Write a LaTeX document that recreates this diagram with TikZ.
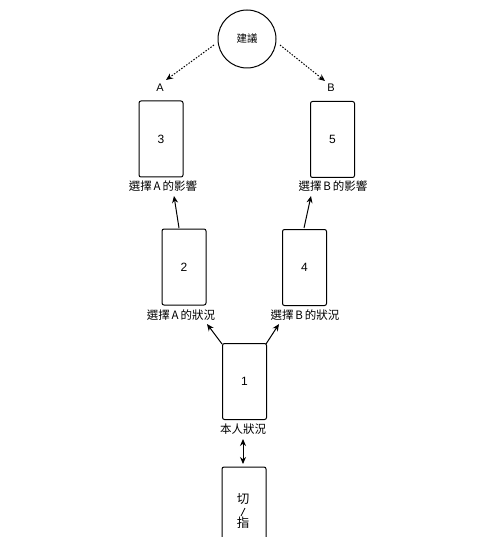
\documentclass[tikz,border=0pt]{standalone}
\usepackage{fontspec}
\setmainfont{Liberation Sans}
\newfontfamily\cjk{Noto Sans CJK TC}
\usetikzlibrary{arrows.meta}
\begin{document}
\begin{tikzpicture}[x=1pt,y=-1pt,
  card/.style={draw=black, rounded corners=2pt, minimum width=44pt, minimum height=76pt, line width=1pt, font=\fontsize{12}{14}\selectfont},
  captext/.style={font=\cjk\fontsize{11.5}{13}\selectfont, inner sep=1pt},
  arr/.style={-{Stealth[length=7pt,width=6pt]}, line width=1pt, black},
  dotarr/.style={-{Stealth[length=7pt,width=6pt]}, line width=1pt, black, dash pattern=on 1.5pt off 1.5pt}]
\useasboundingbox (0,0) rectangle (500,537);
\clip (0,0) rectangle (500,537);
\fill[white] (0,0) rectangle (500,537);
% advice circle
\node[draw=black, circle, line width=1pt, minimum size=58pt, inner sep=0pt, font=\cjk\fontsize{10.5}{12}\selectfont] (adv) at (247,39) {建議};
\node[font=\fontsize{11}{13}\selectfont, inner sep=1pt] (la) at (160,88) {A};
\node[font=\fontsize{11}{13}\selectfont, inner sep=1pt] (lb) at (331,88) {B};
% cards
\node[card] (b3) at (161,139) {3};
\node[card] (b5) at (332.5,139.5) {5};
\node[card] (b2) at (184,267) {2};
\node[card] (b4) at (304.5,267.5) {4};
\node[card] (b1) at (244.5,381.5) {1};
\node[card, minimum height=80pt] (b0) at (244,507) {};
\node[font=\cjk\fontsize{12.5}{14}\selectfont, inner sep=0pt] (c1) at (243,499) {切};
\node[font=\cjk\fontsize{12.5}{14}\selectfont, inner sep=0pt] (c2) at (243,523) {指};
\draw[line width=0.8pt, black] (c2.north) ++(-2,-1) coordinate (s1) -- ++(4,-8) coordinate (s2);
% captions
\node[captext] (t3) at (163,186) {選擇\,A\,的影響};
\node[captext] (t5) at (333,186) {選擇\,B\,的影響};
\node[captext] (t2) at (181,315) {選擇\,A\,的狀況};
\node[captext] (t4) at (305,315) {選擇\,B\,的狀況};
\node[captext] (t1) at (243,429) {本人狀況};
% arrows
\coordinate (a1e) at (166,80);
\coordinate (a2e) at (325,81);
\draw[dotarr] (adv) ++(-33,6) coordinate (d1) (d1) -- (a1e);
\draw[dotarr] (adv) ++(33,6) coordinate (d2) (d2) -- (a2e);
\coordinate (p2) at (179,228); \coordinate (q2) at (174,196);
\coordinate (p4) at (304,228); \coordinate (q4) at (311,196);
\draw[arr] (p2) -- (q2);
\draw[arr] (p4) -- (q4);
\coordinate (p1l) at (222,344); \coordinate (q1l) at (207,324);
\coordinate (p1r) at (266,344); \coordinate (q1r) at (279,324);
\draw[arr] (p1l) -- (q1l);
\draw[arr] (p1r) -- (q1r);
\coordinate (u) at (243,439); \coordinate (v) at (243,464);
\draw[{Stealth[length=7pt,width=6pt]}-{Stealth[length=7pt,width=6pt]}, line width=1pt, black] (u) -- (v);
\end{tikzpicture}
\end{document}
